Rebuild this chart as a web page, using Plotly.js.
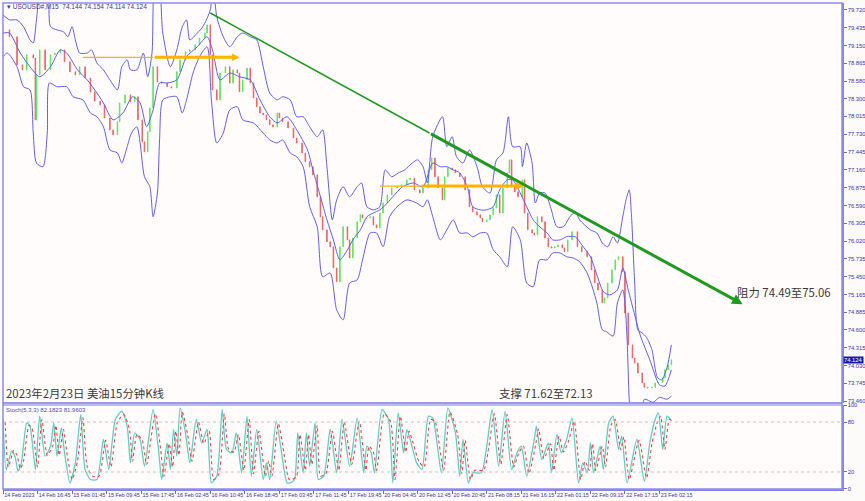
<!DOCTYPE html>
<html><head><meta charset="utf-8">
<script src="https://cdn.plot.ly/plotly-3.0.1.min.js"></script>
<style>html,body{margin:0;padding:0;background:#f3f3f3;}#chart{width:865px;height:501px;}</style>
</head><body><div id="chart"></div>
<script>
// ---- data (bar index = 15-minute bar number from chart start) ----
const closeIdx=[0,6,13,18,22,28,30,31,34,39,44,48,53,57,62,67,71,76,81,85,90,94,99,102,106,108,113,118,122,125,129,131,134,136,139,143,147,152,156,161,164,169,173,178,182,187,189,192,194,198,201,206,210,213,217,219,222,226,229,232,235,238,241,244,247,250,254,256,259,264,269,272,277,280,284,287,291,294,296,300,303,306,309,312,315,319,321,324,328,331,333,337,340,343,346,349,352,356,360,365,369,374,377,381,386,389,394,397,400,403,407,409,412,416,419,423,428,432,435,439,442,444,448,451,454,457,460,463,467,469,471,474,477,481,483,486,490,492,495,499,502,505,508,511,514,518,520,523,527,532,536,541,545,548,551,555,557,560,564,567,570,574,576,579,583,585,588,592,594,597,601,604,607,611,613,616,619];
const closeVals=[79.40,79.29,78.84,78.76,79.00,78.95,77.96,78.68,79.08,78.76,79.00,79.03,79.08,78.89,78.73,78.68,78.81,78.63,78.41,78.26,78.20,77.99,77.80,77.72,77.93,78.23,78.36,78.25,78.33,77.96,77.61,77.45,77.77,78.15,78.81,78.57,78.55,78.49,78.47,78.73,78.92,79.05,79.08,79.16,79.27,79.35,79.48,79.00,78.44,78.28,78.71,78.81,78.55,78.76,78.71,78.41,78.60,78.79,78.55,78.31,78.17,78.07,78.04,77.96,77.88,77.85,78.07,77.99,77.93,77.83,77.67,77.59,77.43,77.29,77.21,77.08,76.73,76.41,76.20,76.01,75.93,75.59,75.37,75.93,76.25,76.04,75.75,76.07,76.33,76.44,76.39,76.39,76.41,76.28,76.23,76.47,76.63,76.76,76.87,76.89,76.92,77.00,77.03,76.84,76.79,76.87,77.16,77.35,77.05,76.87,76.68,77.05,77.19,77.16,77.11,77.05,76.84,76.57,76.49,76.44,76.39,76.33,76.36,76.44,76.55,76.76,76.47,76.87,77.11,77.32,76.89,76.81,76.73,77.00,76.47,76.20,76.15,76.12,76.41,76.33,76.07,75.93,75.91,75.93,75.96,75.91,75.85,76.04,76.17,75.93,75.85,75.77,75.56,75.35,75.24,75.03,75.11,75.35,75.56,75.72,75.77,75.53,74.87,74.36,74.15,74.07,73.91,73.75,73.68,73.67,73.68,73.75,73.76,73.83,73.96,74.04,74.12];

const upperIdx=[0,6,13,19,25,28,31,36,41,44,50,56,60,64,67,71,78,82,87,93,99,106,110,115,118,124,130,134,138,141,144,148,155,161,166,170,173,180,185,192,194,198,204,210,217,222,229,235,241,247,254,259,266,272,278,284,291,296,300,305,309,315,321,328,332,337,343,349,354,360,366,372,379,384,389,393,398,407,411,416,420,426,432,439,444,451,457,463,468,472,479,481,485,490,493,497,502,507,513,519,525,530,534,544,550,555,560,565,569,574,577,580,582,585,588,592,596,601,606,610,615,619];
const upperVals=[79.64,79.56,79.56,79.45,79.24,79.19,79.56,80.2,80.2,79.45,79.40,79.37,79.29,79.45,79.24,79.03,79.03,79.08,78.87,78.76,78.60,78.44,78.81,78.92,78.76,78.76,79.03,78.65,79.03,80.2,80.2,79.35,78.81,79.08,79.45,79.56,79.24,79.35,79.45,79.72,80.2,79.61,79.29,79.13,79.29,79.35,79.29,79.24,78.81,78.39,78.28,78.33,78.28,78.01,78.01,77.85,77.69,77.80,77.21,76.36,76.68,76.89,76.73,76.89,76.95,76.57,76.52,76.57,77.16,77.05,77.11,77.16,77.27,77.32,77.21,76.95,77.69,78.01,77.53,77.69,77.37,77.27,77.48,77.21,76.89,76.79,77.32,77.43,78.01,77.53,77.53,77.21,77.59,77.27,76.63,76.79,76.79,76.57,76.25,76.25,76.41,76.49,76.36,76.20,76.15,75.99,75.93,76.09,75.99,76.41,76.68,76.84,76.44,75.35,74.60,74.55,74.48,74.28,73.84,73.80,74.00,74.36];

const midIdx=[0,6,16,25,34,44,53,59,69,78,87,93,102,111,120,127,133,139,145,152,161,170,180,189,194,201,210,219,229,238,247,254,263,272,282,287,294,300,306,312,319,324,331,337,343,349,356,361,370,380,389,398,405,411,417,423,430,435,442,448,454,460,467,472,479,485,491,497,504,509,516,522,530,536,544,550,556,562,569,574,579,585,590,599,608,613,619];
const midVals=[79.35,79.35,79.03,78.81,78.65,78.81,79.08,79.03,78.76,78.60,78.39,78.23,77.96,78.07,78.33,78.23,77.85,78.12,78.55,78.55,78.60,78.97,79.13,79.29,79.08,78.60,78.71,78.65,78.60,78.28,78.01,77.91,78.01,77.80,77.48,77.16,76.73,76.36,76.04,75.72,75.88,76.04,76.20,76.41,76.47,76.52,76.63,76.73,76.89,76.95,76.89,77.27,77.21,77.21,77.16,77.11,76.89,76.57,76.52,76.52,76.57,76.84,77.00,77.00,76.79,76.57,76.36,76.25,76.15,76.04,76.04,76.09,76.09,75.96,75.77,75.48,75.21,75.16,75.24,75.59,75.24,74.84,74.52,74.12,73.72,73.70,73.96];

const lowerIdx=[0,4,13,19,25,28,31,37,41,43,50,59,65,74,81,87,93,99,106,110,115,119,124,127,131,136,139,143,145,148,155,161,166,170,176,182,189,193,198,204,210,217,222,232,241,247,254,259,266,272,278,284,291,296,303,309,315,321,328,333,340,346,352,358,365,374,383,389,393,398,405,411,417,423,430,435,442,448,454,460,467,472,479,485,491,497,504,509,516,522,528,534,541,546,550,555,559,565,569,574,576,578,580,583,590,594,602,608,615,619];
const lowerVals=[78.97,79.03,78.81,78.49,78.44,77.75,77.27,77.21,77.75,78.55,78.49,78.49,78.33,78.28,78.07,78.01,77.85,77.48,77.43,77.27,77.53,77.75,77.85,77.59,77.05,76.89,76.41,76.79,77.64,78.28,78.33,78.33,78.07,78.28,78.71,78.97,79.13,78.28,77.59,77.75,78.12,78.17,77.96,77.91,77.75,77.64,77.59,77.64,77.43,77.37,77.21,76.57,76.25,75.45,75.51,74.92,74.76,75.35,75.40,75.72,76.15,76.15,75.93,76.41,76.57,76.68,76.63,76.57,76.68,76.41,76.04,76.20,76.36,76.15,76.15,76.09,76.15,76.15,75.88,75.77,75.61,76.25,76.04,75.35,75.29,75.72,75.72,75.83,75.83,75.77,75.75,75.69,75.51,75.27,75.03,74.60,74.57,74.50,75.03,75.24,75.03,74.44,73.47,72.84,72.84,73.49,73.44,73.52,73.49,73.54];

const kIdx=[0,3,8,11,14,17,22,25,30,34,39,44,47,50,54,57,62,67,72,76,81,87,93,98,104,110,115,118,122,127,131,139,144,147,152,155,158,161,164,169,173,179,184,189,193,198,203,207,212,216,221,226,230,235,241,244,247,253,258,263,266,270,273,278,281,284,289,292,297,303,309,314,321,328,334,337,341,344,351,357,361,366,371,374,378,383,388,394,398,406,412,419,423,426,431,435,443,448,453,459,465,471,476,480,485,492,494,499,505,508,513,517,522,527,533,537,541,544,547,553,556,561,565,570,573,578,587,594,599,604,607,611,615,619];
const kVals=[83,23,45,39,21,31,79,75,23,87,39,51,79,39,73,43,7,31,89,23,11,11,59,23,83,93,75,31,67,59,27,95,47,11,55,23,71,39,97,67,31,83,55,71,7,15,95,47,43,67,19,87,15,71,11,31,11,81,43,7,7,11,67,19,67,27,79,11,15,71,19,83,27,85,19,51,43,19,95,83,7,91,43,71,55,31,23,87,85,19,97,67,15,59,7,19,19,51,95,27,93,23,43,51,15,59,75,35,55,19,65,43,59,85,7,31,19,55,19,51,23,79,87,47,63,7,59,9,55,83,91,47,87,82];
const dIdx=[2,5,10,13,16,19,24,27,32,36,41,46,49,52,56,59,64,69,74,78,83,89,95,100,106,112,117,120,124,129,133,141,146,149,154,157,160,163,166,171,175,181,186,191,195,200,205,209,214,218,223,228,232,237,243,246,249,255,260,265,268,272,275,280,283,286,291,294,299,305,311,316,323,330,336,339,343,346,353,359,363,368,373,376,380,385,390,396,400,408,414,421,425,428,433,437,445,450,455,461,467,473,478,482,487,494,496,501,507,510,515,519,524,529,535,539,543,546,549,555,558,563,567,572,575,580,589,596,601,606,609,613,617,619];
const dVals=[80,26,46,40,24,33,76,72,26,83,40,51,76,40,71,44,11,33,85,26,15,15,58,26,80,89,72,33,65,58,29,90,47,15,54,26,69,40,92,65,33,80,54,69,11,18,90,47,44,65,22,83,18,69,15,33,15,78,44,11,11,15,65,22,65,29,76,15,18,69,22,80,29,81,22,51,44,22,90,80,11,87,44,69,54,33,26,83,81,22,92,65,18,58,11,22,22,51,90,29,89,26,44,51,18,58,72,36,54,22,63,44,58,81,11,33,22,54,22,51,26,76,83,47,62,11,58,13,54,80,87,47,83,82];
const stochLevels=[20,80];

const priceTicks=[79.720,79.435,79.150,78.865,78.580,78.300,78.015,77.730,77.445,77.160,76.875,76.590,76.305,76.020,75.735,75.450,75.165,74.885,74.600,74.315,74.030,73.745,73.460];
const stochTicks=[0,20,80,100];
const dateTickIdx=[0,32,64,96,128,160,192,224,256,288,320,352,384,416,448,480,512,544,576,608];
const dateTickText=["14 Feb 2023","14 Feb 16:45","15 Feb 01:45","15 Feb 09:45","15 Feb 17:45","16 Feb 02:45","16 Feb 10:45","16 Feb 18:45","17 Feb 03:45","17 Feb 11:45","17 Feb 19:45","20 Feb 04:45","20 Feb 12:45","20 Feb 20:45","21 Feb 08:15","21 Feb 16:15","22 Feb 01:15","22 Feb 09:15","22 Feb 17:15","23 Feb 02:15"];

const trendIdx=[192,395,685];
const trendPrice=[79.67,77.75,75.01];
const level1Idx=[74,139,219]; const level1Price=78.96;
const level2Idx=[349,386,482]; const level2Price=76.90;
const lastPrice=74.124;
const header="▾ USOUSD#,M15  74.144 74.154 74.114 74.124";
const stochHeader="Stoch(5,3,3) 82.1823 81.9603";
const titleText="2023年2月23日 美油15分钟K线";
const supportText="支撑 71.62至72.13";
const resistText="阻力 74.49至75.06";

// ---- build ----
const openVals=closeVals.map((c,i)=>i===0?c:closeVals[i-1]);
const highVals=closeVals.map((c,i)=>Math.max(c,openVals[i]));
const lowVals=closeVals.map((c,i)=>Math.min(c,openVals[i]));
const bandColor='#5f5ff0';
const XR=[0,777];
const traces=[
 {type:'scatter',mode:'lines',x:upperIdx,y:upperVals,line:{color:bandColor,width:1,shape:'spline',smoothing:0.7},hoverinfo:'skip'},
 {type:'scatter',mode:'lines',x:midIdx,y:midVals,line:{color:bandColor,width:1,shape:'spline',smoothing:0.7},hoverinfo:'skip'},
 {type:'scatter',mode:'lines',x:lowerIdx,y:lowerVals,line:{color:bandColor,width:1,shape:'spline',smoothing:0.7},hoverinfo:'skip'},
 {type:'candlestick',x:closeIdx,open:openVals,high:highVals,low:lowVals,close:closeVals,
  increasing:{line:{color:'#5ee85e',width:1},fillcolor:'#5ee85e'},
  decreasing:{line:{color:'#f26565',width:1},fillcolor:'#f26565'},whiskerwidth:0,hoverinfo:'skip'},
 {type:'scatter',mode:'lines',x:[level1Idx[0],level1Idx[1]],y:[level1Price,level1Price],line:{color:'#ffb300',width:1.3},hoverinfo:'skip'},
 {type:'scatter',mode:'lines',x:[level2Idx[0],level2Idx[1]],y:[level2Price,level2Price],line:{color:'#ffb300',width:1.3},hoverinfo:'skip'},
 {type:'scatter',mode:'lines',x:[trendIdx[0],trendIdx[1]],y:[trendPrice[0],trendPrice[1]],line:{color:'#1e9a1e',width:1.5},hoverinfo:'skip'},
 {type:'scatter',mode:'lines',x:kIdx,y:kVals,xaxis:'x2',yaxis:'y2',line:{color:'#5ccfc6',width:1.3,shape:'spline',smoothing:0.6},hoverinfo:'skip'},
 {type:'scatter',mode:'lines',x:dIdx,y:dVals,xaxis:'x2',yaxis:'y2',line:{color:'#ff3d3d',width:1.1,dash:'dot',shape:'spline',smoothing:0.6},hoverinfo:'skip'}
];
stochLevels.forEach(l=>traces.push({type:'scatter',mode:'lines',x:XR,y:[l,l],xaxis:'x2',yaxis:'y2',line:{color:'#c8c8c8',width:1,dash:'dot'},hoverinfo:'skip'}));

const tickFont={family:'Liberation Sans, Arial',size:5.8,color:'#3535b0'};
const layout={
 width:865,height:501,margin:{l:3,r:23,t:3,b:12},
 paper_bgcolor:'#fdfbfa',plot_bgcolor:'#fffcfb',showlegend:false,
 xaxis:{domain:[0,1],anchor:'y',range:XR,showticklabels:false,showgrid:false,zeroline:false,ticks:'',rangeslider:{visible:false},fixedrange:true},
 yaxis:{domain:[0.177,1],anchor:'x',side:'right',range:[73.43,79.83],tickvals:priceTicks,ticktext:priceTicks.map(v=>v.toFixed(3)),
   tickfont:tickFont,ticks:'outside',ticklen:3,tickcolor:'#6a6ae0',showgrid:false,zeroline:false,showline:true,linecolor:'#8585e8',linewidth:1.5},
 xaxis2:{domain:[0,1],anchor:'y2',matches:'x',range:XR,tickvals:dateTickIdx,ticktext:dateTickText,ticklabelposition:'outside right',tickangle:0,
   tickfont:{family:'Liberation Sans, Arial',size:5.4,color:'#3535b0'},ticks:'outside',ticklen:3,tickcolor:'#6a6ae0',showgrid:false,zeroline:false,
   showline:true,linecolor:'#8585e8',linewidth:1.5,automargin:false},
 yaxis2:{domain:[0,0.1728],anchor:'x2',side:'right',range:[-0.4,100.4],tickvals:stochTicks,tickfont:tickFont,ticks:'outside',ticklen:3,tickcolor:'#6a6ae0',
   showgrid:false,zeroline:false,showline:true,linecolor:'#8585e8',linewidth:1.5},
 shapes:[
  {type:'rect',xref:'paper',yref:'paper',x0:0,x1:1,y0:0,y1:1,line:{color:'#8d8de8',width:1.5}},
  {type:'line',xref:'paper',yref:'paper',x0:0,x1:1,y0:0.177,y1:0.177,line:{color:'#7a7ae0',width:1.5}},
  {type:'line',xref:'paper',yref:'paper',x0:0,x1:1,y0:0.1728,y1:0.1728,line:{color:'#7a7ae0',width:1}}
 ],
 annotations:[
  {x:level1Idx[2],y:level1Price,ax:level1Idx[1],ay:level1Price,xref:'x',yref:'y',axref:'x',ayref:'y',showarrow:true,arrowhead:2,arrowsize:0.5,arrowwidth:3,arrowcolor:'#ffb300',text:''},
  {x:level2Idx[2],y:level2Price,ax:level2Idx[1],ay:level2Price,xref:'x',yref:'y',axref:'x',ayref:'y',showarrow:true,arrowhead:2,arrowsize:0.5,arrowwidth:3,arrowcolor:'#ffb300',text:''},
  {x:trendIdx[2],y:trendPrice[2],ax:trendIdx[1],ay:trendPrice[1],xref:'x',yref:'y',axref:'x',ayref:'y',showarrow:true,arrowhead:2,arrowsize:0.7,arrowwidth:3,arrowcolor:'#1e9a1e',text:''},
  {x:1,xref:'paper',y:lastPrice,yref:'y',xanchor:'left',yanchor:'middle',xshift:1,showarrow:false,text:lastPrice.toFixed(3),
    bgcolor:'#1a1aa8',font:{family:'Liberation Sans, Arial',size:5.8,color:'#ffffff'},borderpad:0},
  {x:0.002,xref:'paper',y:0.9938,yref:'paper',xanchor:'left',yanchor:'middle',showarrow:false,text:header,font:{family:'Liberation Sans, Arial',size:6.5,color:'#3a3a9a'}},
  {x:0.0012,xref:'paper',y:0.1626,yref:'paper',xanchor:'left',yanchor:'middle',showarrow:false,text:stochHeader,font:{family:'Liberation Sans, Arial',size:6,color:'#4a4ad0'}},
  {x:0.0012,xref:'paper',y:0.1975,yref:'paper',xanchor:'left',yanchor:'middle',showarrow:false,text:titleText,font:{family:'Noto Sans CJK SC',size:11.4,color:'#3a3a3a'}},
  {x:0.5888,xref:'paper',y:0.1975,yref:'paper',xanchor:'left',yanchor:'middle',showarrow:false,text:supportText,font:{family:'Noto Sans CJK SC',size:11.4,color:'#3a3a3a'}},
  {x:0.8725,xref:'paper',y:0.4053,yref:'paper',xanchor:'left',yanchor:'middle',showarrow:false,text:resistText,font:{family:'Noto Sans CJK SC',size:11.4,color:'#3a3a3a'}}
 ]
};
Plotly.newPlot('chart',traces,layout,{staticPlot:true,displayModeBar:false});
</script></body></html>
